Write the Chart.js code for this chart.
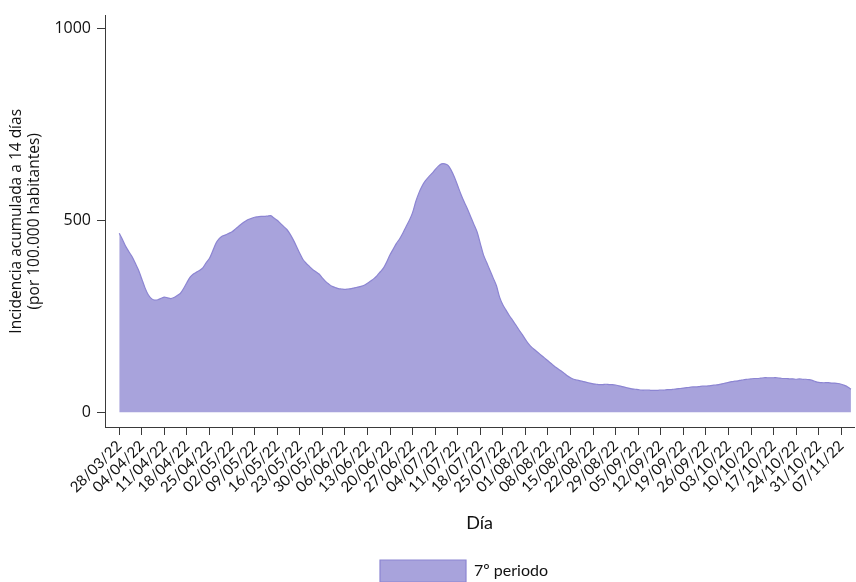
<!DOCTYPE html>
<html>
<head>
<meta charset="utf-8">
<script src="https://cdn.jsdelivr.net/npm/chart.js@4.4.0/dist/chart.umd.min.js"></script>
<style>
  html, body { margin: 0; padding: 0; background: #fff; }
  #wrap { width: 856px; height: 582px; position: relative; }
</style>
</head>
<body>
<div id="wrap"><canvas id="grafico"></canvas></div>
<script>
// Etiquetas semanales del eje X (cada 7 días desde el 28/03/22)
const etiquetasSemana = [
    '28/03/22', '04/04/22', '11/04/22', '18/04/22', '25/04/22', '02/05/22', '09/05/22',
    '16/05/22', '23/05/22', '30/05/22', '06/06/22', '13/06/22', '20/06/22', '27/06/22',
    '04/07/22', '11/07/22', '18/07/22', '25/07/22', '01/08/22', '08/08/22', '15/08/22',
    '22/08/22', '29/08/22', '05/09/22', '12/09/22', '19/09/22', '26/09/22', '03/10/22',
    '10/10/22', '17/10/22', '24/10/22', '31/10/22', '07/11/22'
];

// Ticks del eje Y
const ticksY = [0, 500, 1000];

// Incidencia acumulada a 14 días, un valor por día desde el 28/03/22
const incidencia = [
    466, 450, 432, 418, 405, 388, 370, 347, 324, 306,
    296, 292, 293, 297, 300, 298, 296, 299, 304, 310,
    323, 338, 352, 360, 365, 370, 377, 390, 401, 420,
    440, 452, 459, 462, 466, 470, 477, 484, 491, 497,
    502, 505, 508, 509, 510, 510, 511, 512, 506, 500,
    492, 484, 476, 464, 449, 432, 414, 398, 388, 380,
    372, 366, 360, 350, 341, 334, 328, 325, 322, 321,
    320, 321, 322, 324, 326, 328, 331, 336, 342, 348,
    356, 366, 376, 392, 410, 425, 440, 452, 467, 484,
    500, 520, 549, 572, 590, 603, 613, 622, 632, 641,
    647, 647, 643, 630, 612, 590, 568, 548, 530, 510,
    490, 470, 440, 410, 390, 370, 350, 330, 300, 280,
    266, 252, 240, 228, 215, 203, 190, 178, 169, 162,
    155, 148, 141, 134, 127, 120, 114, 108, 102, 95,
    90, 86, 84, 82, 80, 78, 76, 74, 73, 72,
    72, 73, 72, 72, 71, 69, 67, 65, 63, 61,
    60, 59, 58, 58, 58, 57, 57, 57, 58, 58,
    59, 59, 60, 61, 62, 63, 64, 65, 66, 66,
    67, 68, 68, 69, 70, 71, 72, 74, 76, 78,
    80, 81, 82, 84, 85, 86, 87, 88, 88, 89,
    90, 90, 90, 90, 90, 89, 88, 88, 87, 87,
    86, 87, 86, 86, 85, 83, 80, 78, 77, 77,
    77, 76, 76, 75, 73, 70, 66, 60
];

const colorRelleno = 'rgb(168, 163, 220)';
const colorBorde = 'rgb(140, 133, 210)';
const colorEje = '#3a3a3a';

// Desplaza la leyenda para que quede como en el original
const moverLeyenda = {
    id: 'moverLeyenda',
    afterLayout(chart) {
        const leyenda = chart.legend;
        if (!leyenda) return;
        leyenda.left += 36;
        leyenda.right += 36;
        leyenda.top += 10;
        leyenda.bottom += 10;
    }
};

document.addEventListener('DOMContentLoaded', function() {
    dibujarGrafico();
});

function dibujarGrafico() {
    const ctx = document.getElementById('grafico').getContext('2d');
    const puntos = incidencia.map((v, i) => ({ x: i, y: v }));

    new Chart(ctx, {
        type: 'line',
        data: {
            datasets: [{
                label: '7º periodo',
                data: puntos,
                fill: 'origin',
                backgroundColor: colorRelleno,
                borderColor: colorBorde,
                borderWidth: 1.2,
                pointRadius: 0,
                tension: 0.3
            }]
        },
        plugins: [moverLeyenda],
        options: {
            responsive: true,
            maintainAspectRatio: false,
            animation: false,
            layout: { padding: { top: 7, right: 0, left: 0, bottom: 0 } },
            plugins: {
                tooltip: { enabled: false },
                legend: {
                    position: 'bottom',
                    labels: {
                        boxWidth: 86,
                        boxHeight: 22,
                        padding: 10,
                        color: '#111',
                        font: { family: 'Lato', size: 16 }
                    }
                }
            },
            scales: {
                x: {
                    type: 'linear',
                    min: -4.42,
                    max: 228,
                    afterBuildTicks: scale => {
                        scale.ticks = etiquetasSemana.map((_, i) => ({ value: i * 7 }));
                    },
                    afterFit: scale => { scale.height = 113; },
                    ticks: {
                        autoSkip: false,
                        maxRotation: 45,
                        minRotation: 45,
                        padding: 2,
                        color: '#111',
                        font: { family: 'Lato', size: 15 },
                        callback: value => etiquetasSemana[Math.round(value / 7)]
                    },
                    grid: {
                        drawOnChartArea: false,
                        drawTicks: true,
                        tickLength: 8,
                        color: colorEje
                    },
                    border: { color: colorEje, width: 1 },
                    title: {
                        display: true,
                        text: 'Día',
                        color: '#111',
                        font: { family: 'Lato', size: 18 },
                        padding: { top: 0, bottom: 6 }
                    }
                },
                y: {
                    min: -38.3,
                    max: 1033,
                    afterBuildTicks: scale => {
                        scale.ticks = ticksY.map(v => ({ value: v }));
                    },
                    afterFit: scale => { scale.width = 105; },
                    ticks: {
                        padding: 6,
                        color: '#111',
                        font: { family: 'Open Sans', size: 16 },
                        callback: value => String(value)
                    },
                    grid: {
                        drawOnChartArea: false,
                        drawTicks: true,
                        tickLength: 8,
                        color: colorEje
                    },
                    border: { color: colorEje, width: 1 },
                    title: {
                        display: true,
                        text: ['Incidencia acumulada a 14 días', '(por 100.000 habitantes)'],
                        color: '#111',
                        font: { family: 'Open Sans', size: 15.5, lineHeight: 1.15 },
                        padding: { top: 8, bottom: 0 }
                    }
                }
            }
        }
    });
}
</script>
</body>
</html>
